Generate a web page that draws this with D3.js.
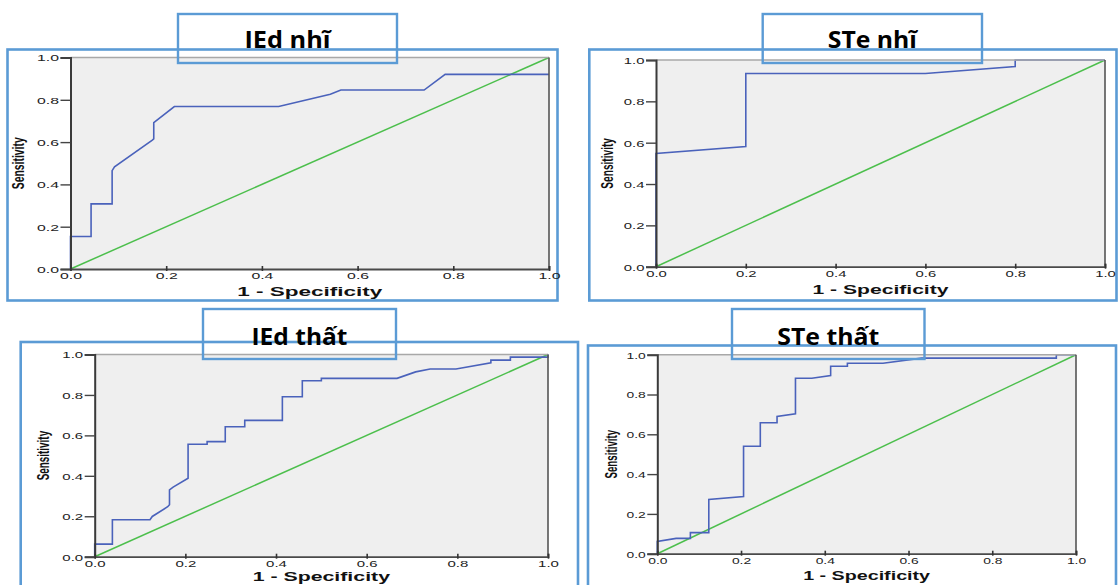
<!DOCTYPE html>
<html>
<head>
<meta charset="utf-8">
<script src="https://cdn.jsdelivr.net/npm/d3@7"></script>
<style>
  html, body { margin: 0; padding: 0; background: #ffffff; }
  svg { display: block; }
</style>
</head>
<body>
<svg id="chart" width="1118" height="585"></svg>
<script>
// ---------------- data ----------------
const panelTitles = ["IEd nhĩ", "STe nhĩ", "IEd thất", "STe thất"];
const xAxisTitle = "1 - Specificity";
const yAxisTitle = "Sensitivity";
const tickValues = [0, 0.2, 0.4, 0.6, 0.8, 1.0];
const tickLabels = ["0.0", "0.2", "0.4", "0.6", "0.8", "1.0"];
const referenceLine = [0, 1];

const iedNhiFpr = [0, 0, 0.043, 0.043, 0.087, 0.087, 0.092, 0.171, 0.174, 0.174, 0.217, 0.435, 0.543, 0.565, 0.739, 0.783, 1.0];
const iedNhiTpr = [0, 0.154, 0.154, 0.308, 0.308, 0.465, 0.483, 0.609, 0.615, 0.692, 0.768, 0.768, 0.826, 0.846, 0.846, 0.92, 0.92];

const steNhiFpr = [0, 0, 0.2, 0.2, 0.6, 0.8, 0.8, 1.0];
const steNhiTpr = [0, 0.548, 0.581, 0.935, 0.935, 0.968, 1.0, 1.0];

const iedThatFpr = [0, 0, 0.039, 0.039, 0.122, 0.127, 0.161, 0.165, 0.165, 0.173, 0.206, 0.206, 0.248, 0.248, 0.288, 0.288, 0.331, 0.331, 0.414, 0.414, 0.458, 0.458, 0.5, 0.5, 0.667, 0.708, 0.74, 0.797, 0.874, 0.874, 0.917, 0.917, 1.0, 1.0];
const iedThatTpr = [0, 0.062, 0.062, 0.183, 0.183, 0.199, 0.247, 0.257, 0.33, 0.344, 0.388, 0.556, 0.556, 0.569, 0.569, 0.643, 0.643, 0.674, 0.674, 0.791, 0.791, 0.87, 0.87, 0.882, 0.882, 0.914, 0.928, 0.928, 0.959, 0.972, 0.972, 0.987, 0.987, 1.0];

const steThatFpr = [0, 0, 0.045, 0.079, 0.079, 0.123, 0.123, 0.206, 0.206, 0.246, 0.246, 0.286, 0.286, 0.33, 0.33, 0.369, 0.414, 0.414, 0.454, 0.454, 0.539, 0.631, 0.953, 0.953, 1.0];
const steThatTpr = [0, 0.062, 0.077, 0.077, 0.106, 0.106, 0.272, 0.287, 0.54, 0.54, 0.658, 0.658, 0.69, 0.703, 0.882, 0.882, 0.895, 0.942, 0.942, 0.957, 0.957, 0.983, 0.983, 1.0, 1.0];

const curveFpr = [iedNhiFpr, steNhiFpr, iedThatFpr, steThatFpr];
const curveTpr = [iedNhiTpr, steNhiTpr, iedThatTpr, steThatTpr];

// ---------------- layout ----------------
const layout = [
  { frame: [7.5, 49.5, 557.5, 300.5], tbox: [178, 14, 397, 63], titleY: 47.5,
    plot: [70.5, 57.5, 549, 269], yTitleX: 17, xTitleDy: 27 },
  { frame: [589.3, 49.5, 1116.5, 300.5], tbox: [762.7, 14, 982, 63], titleY: 47.5,
    plot: [656, 60, 1105, 266.7], yTitleX: 606, xTitleDy: 27 },
  { frame: [20.7, 342, 578, 600], tbox: [203, 309, 396, 359], titleY: 344.5,
    plot: [94.7, 354.5, 548, 556.7], yTitleX: 42, xTitleDy: 24.5 },
  { frame: [588, 345.5, 1116, 600], tbox: [732, 309, 924.5, 359], titleY: 344.5,
    plot: [657.3, 354.7, 1076, 553.7], yTitleX: 610, xTitleDy: 26 }
];

const svg = d3.select("#chart");
const frameBlue = "#5b9bd5";

layout.forEach((L, i) => {
  const [pl, pt, pr, pb] = L.plot;
  const w = pr - pl, h = pb - pt;
  const x = d3.scaleLinear().domain([0, 1]).range([pl, pr]);
  const y = d3.scaleLinear().domain([0, 1]).range([pb, pt]);
  const g = svg.append("g");

  // outer frame
  const [fl, ft, fr, fb] = L.frame;
  g.append("rect").attr("x", fl).attr("y", ft).attr("width", fr - fl).attr("height", fb - ft)
    .attr("fill", "none").attr("stroke", frameBlue).attr("stroke-width", 2.6);

  // plot background
  g.append("rect").attr("x", pl).attr("y", pt).attr("width", w).attr("height", h)
    .attr("fill", "#efefef");

  // reference diagonal
  g.append("line")
    .attr("x1", x(referenceLine[0])).attr("y1", y(referenceLine[0]))
    .attr("x2", x(referenceLine[1])).attr("y2", y(referenceLine[1]))
    .attr("stroke", "#4cbf4c").attr("stroke-width", 1.5);

  // ROC curve
  const pts = curveFpr[i].map((f, k) => [f, curveTpr[i][k]]);
  g.append("path").datum(pts)
    .attr("d", d3.line().x(d => x(d[0])).y(d => y(d[1])))
    .attr("fill", "none").attr("stroke", "#4a62bb").attr("stroke-width", 1.6)
    .attr("stroke-linejoin", "miter");

  // borders
  g.append("line").attr("x1", pl).attr("x2", pr).attr("y1", pt).attr("y2", pt)
    .attr("stroke", "#a8a8a8").attr("stroke-width", 1.5);
  g.append("line").attr("x1", pr).attr("x2", pr).attr("y1", pt).attr("y2", pb)
    .attr("stroke", "#555").attr("stroke-width", 1.6);

  // y axis
  const yAxis = d3.axisLeft(y).tickValues(tickValues).tickSize(10).tickPadding(1.5)
    .tickFormat((d, k) => tickLabels[k]);
  const ya = g.append("g").attr("transform", `translate(${pl},0)`).call(yAxis);
  ya.select(".domain").attr("stroke", "#3a3a3a").attr("stroke-width", 2);
  ya.selectAll(".tick line").attr("stroke", "#444").attr("stroke-width", 1.4);
  ya.selectAll(".tick text")
    .attr("font-family", "Liberation Sans, Arial, sans-serif").attr("font-size", 9.5)
    .attr("fill", "#222").attr("dy", "0.36em")
    .attr("textLength", w * 0.046).attr("lengthAdjust", "spacingAndGlyphs");

  // x axis
  const xAxis = d3.axisBottom(x).tickValues(tickValues).tickSize(-3).tickPadding(8)
    .tickFormat((d, k) => tickLabels[k]);
  const xa = g.append("g").attr("transform", `translate(0,${pb})`).call(xAxis);
  xa.select(".domain").attr("stroke", "#4a4a4a").attr("stroke-width", 1.8);
  xa.selectAll(".tick line").attr("stroke", "#333").attr("stroke-width", 1.6)
    .attr("y1", 2);
  xa.selectAll(".tick text")
    .attr("font-family", "Liberation Sans, Arial, sans-serif").attr("font-size", 9.5)
    .attr("fill", "#222").attr("y", 5).attr("dy", "0.55em")
    .attr("textLength", w * 0.046).attr("lengthAdjust", "spacingAndGlyphs");

  // axis titles
  g.append("text").attr("x", (pl + pr) / 2).attr("y", pb + L.xTitleDy)
    .attr("text-anchor", "middle")
    .attr("font-family", "Liberation Sans, Arial, sans-serif").attr("font-weight", "bold")
    .attr("font-size", 12).attr("fill", "#111")
    .attr("textLength", w * 0.303).attr("lengthAdjust", "spacingAndGlyphs")
    .text(xAxisTitle);

  g.append("text")
    .attr("transform", `translate(${L.yTitleX + 6.5},${(pt + pb) / 2}) rotate(-90)`)
    .attr("text-anchor", "middle")
    .attr("font-family", "Liberation Sans, Arial, sans-serif").attr("font-weight", "bold")
    .attr("font-size", 17).attr("fill", "#111")
    .attr("textLength", h * 0.245).attr("lengthAdjust", "spacingAndGlyphs")
    .text(yAxisTitle);

  // title box + title
  const [tl, tt, tr, tb] = L.tbox;
  g.append("rect").attr("x", tl).attr("y", tt).attr("width", tr - tl).attr("height", tb - tt)
    .attr("fill", "none").attr("stroke", frameBlue).attr("stroke-width", 2.4);
  const titleW = [86, 89, 96, 102][i];
  g.append("text").attr("x", (tl + tr) / 2).attr("y", L.titleY)
    .attr("text-anchor", "middle")
    .attr("font-family", "Open Sans, Lato, sans-serif").attr("font-weight", "bold")
    .attr("font-size", 24).attr("fill", "#000")
    .attr("textLength", titleW).attr("lengthAdjust", "spacingAndGlyphs")
    .text(panelTitles[i]);
});
</script>
</body>
</html>
